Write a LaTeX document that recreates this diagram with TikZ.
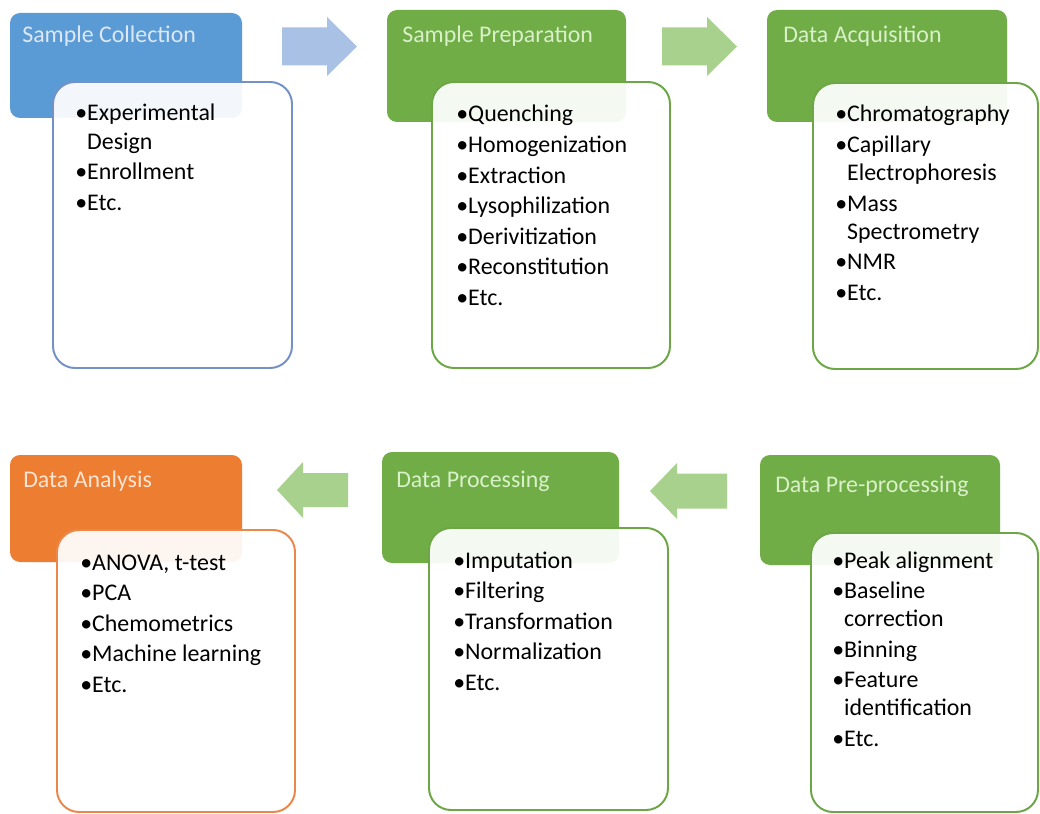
\documentclass[tikz,border=0pt]{standalone}
\usepackage{fontspec}
\setmainfont{Carlito}
\usetikzlibrary{fit}

\definecolor{hdrBlue}{HTML}{5B9BD5}
\definecolor{hdrGreen}{HTML}{70AD47}
\definecolor{hdrOrange}{HTML}{ED7D31}
\definecolor{lineBlue}{HTML}{7391C6}
\definecolor{lineGreen}{HTML}{6CA646}
\definecolor{lineOrange}{HTML}{EC874A}
\definecolor{txtBlue}{HTML}{DCE8F6}
\definecolor{txtGreen}{HTML}{D9F0C9}
\definecolor{txtOrange}{HTML}{FCE4D2}
\definecolor{arrBlue}{HTML}{A9C1E5}
\definecolor{arrGreen}{HTML}{A9D18E}

% bullet list set in a top-aligned box, baseline at the first line;
% wrapped lines use \newline so the hanging indent carries over
\newlength{\bulw}
\newcommand{\bitem}[1]{\par\hangindent=\bulw\hangafter=1\noindent\makebox[\bulw][l]{•}#1}
\newcommand{\blist}[1]{\parbox[t]{6cm}{\fontsize{17pt}{0.7cm}\selectfont
  \setlength{\parskip}{0.0625cm}\settowidth{\bulw}{•}#1}}

\tikzset{
  x=0.025cm, y=-0.025cm,
  header/.style={fill=#1, draw=none, rounded corners=0.25cm, inner sep=0pt},
  card/.style={draw=#1, line width=1.4pt, fill=white, fill opacity=0.93,
    rounded corners=0.55cm, inner sep=0pt},
  title/.style={text=#1, font=\fontsize{17pt}{20pt}\selectfont, inner sep=0pt, anchor=base west},
  items/.style={text=black, inner sep=0pt, anchor=base west},
  blockarrow/.style={fill=#1, draw=none},
}

\begin{document}
\begin{tikzpicture}
\useasboundingbox (0,0) rectangle (1040,814);
\clip (0,0) rectangle (1040,814);
\fill[white] (0,0) rectangle (1040,814);

% ---- top row ----
\node[header=hdrBlue, fit={(10,13) (242,118)}] (h1) {};
\node[card=lineBlue, fit={(53,82) (292,368)}] (c1) {};
\node[title=txtBlue] (t1) at (22,43) {Sample Collection};
\node[items] (l1) at (75,121) {\blist{\bitem{Experimental\newline Design}\bitem{Enrollment}\bitem{Etc.}}};

\node[header=hdrGreen, fit={(387,10) (626,122)}] (h2) {};
\node[card=lineGreen, fit={(432,82) (670,368)}] (c2) {};
\node[title=txtGreen] (t2) at (402,43) {Sample Preparation};
\node[items] (l2) at (456,122) {\blist{\bitem{Quenching}\bitem{Homogenization}\bitem{Extraction}\bitem{Lysophilization}\bitem{Derivitization}\bitem{Reconstitution}\bitem{Etc.}}};

\node[header=hdrGreen, fit={(767,10) (1007,122)}] (h3) {};
\node[card=lineGreen, fit={(813,83) (1038,369)}] (c3) {};
\node[title=txtGreen] (t3) at (783,43) {Data Acquisition};
\node[items] (l3) at (835,122) {\blist{\bitem{Chromatography}\bitem{Capillary\newline Electrophoresis}\bitem{Mass\newline Spectrometry}\bitem{NMR}\bitem{Etc.}}};

% ---- bottom row ----
\node[header=hdrOrange, fit={(10,455) (242,562)}] (h4) {};
\node[card=lineOrange, fit={(57,530) (295,812)}] (c4) {};
\node[title=txtOrange] (t4) at (23,487) {Data Analysis};
\node[items] (l4) at (80,570) {\blist{\bitem{ANOVA, t-test}\bitem{PCA}\bitem{Chemometrics}\bitem{Machine learning}\bitem{Etc.}}};

\node[header=hdrGreen, fit={(382,452) (619,563)}] (h5) {};
\node[card=lineGreen, fit={(429,528) (668,810)}] (c5) {};
\node[title=txtGreen] (t5) at (396,487) {Data Processing};
\node[items] (l5) at (453,568) {\blist{\bitem{Imputation}\bitem{Filtering}\bitem{Transformation}\bitem{Normalization}\bitem{Etc.}}};

\node[header=hdrGreen, fit={(760,455) (1000,565)}] (h6) {};
\node[card=lineGreen, fit={(811,533) (1038,812)}] (c6) {};
\node[title=txtGreen] (t6) at (775,492) {Data Pre-processing};
\node[items] (l6) at (832,568) {\blist{\bitem{Peak alignment}\bitem{Baseline\newline correction}\bitem{Binning}\bitem{Feature\newline identification}\bitem{Etc.}}};

% ---- block arrows between the stages ----
\fill[blockarrow=arrBlue] (282,27.5) -- (327,27.5) -- (327,17) -- (357,46.5)
  -- (327,76) -- (327,65.5) -- (282,65.5) -- cycle;
\fill[blockarrow=arrGreen] (662,27.5) -- (707,27.5) -- (707,17) -- (737,46.5)
  -- (707,76) -- (707,65.5) -- (662,65.5) -- cycle;
\fill[blockarrow=arrGreen] (348,473) -- (303,473) -- (303,462) -- (277,490)
  -- (303,518) -- (303,507) -- (348,507) -- cycle;
\fill[blockarrow=arrGreen] (727,473.5) -- (677,473.5) -- (677,463) -- (650,491)
  -- (677,519) -- (677,508.5) -- (727,508.5) -- cycle;
\end{tikzpicture}
\end{document}
